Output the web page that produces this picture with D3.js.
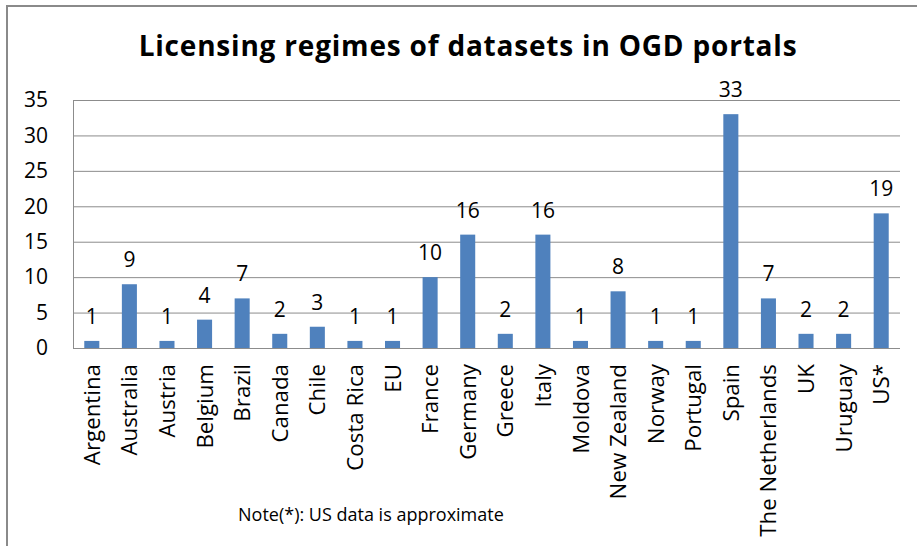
<!DOCTYPE html>
<html>
<head>
<meta charset="utf-8">
<script src="https://cdn.jsdelivr.net/npm/d3@7"></script>
<style>
  body { margin: 0; background: #fff; }
  svg { display: block; font-family: 'Open Sans', sans-serif; }
  .grid line { stroke: #8c8c8c; stroke-width: 1; }
  .bar { fill: #4f81bd; }
  .label { fill: #000; font-size: 21px; }
  .category .label { font-size: 22.3px; }
</style>
</head>
<body>
<svg id="chart"></svg>
<script>
const WIDTH  = 917;
const HEIGHT = 546;

const TITLE = 'Licensing regimes of datasets in OGD portals';
const NOTE  = 'Note(*): US data is approximate';

const countries = ['Argentina', 'Australia', 'Austria', 'Belgium', 'Brazil', 'Canada',
  'Chile', 'Costa Rica', 'EU', 'France', 'Germany', 'Greece', 'Italy', 'Moldova',
  'New Zealand', 'Norway', 'Portugal', 'Spain', 'The Netherlands', 'UK', 'Uruguay', 'US*'];
const datasets  = [1, 9, 1, 4, 7, 2, 3, 1, 1, 10, 16, 2, 16, 1, 8, 1, 1, 33, 7, 2, 2, 19];
const yTicks    = [0, 5, 10, 15, 20, 25, 30, 35];

const plot = { left: 73, right: 900, top: 100, bottom: 348 };

const svg = d3.select('#chart')
  .attr('width', WIDTH)
  .attr('height', HEIGHT);

// outer chart frame (cropped on the right and bottom)
svg.append('rect')
  .attr('x', 7).attr('y', 6)
  .attr('width', WIDTH + 20).attr('height', HEIGHT + 20)
  .attr('fill', '#fff')
  .attr('stroke', '#8a8a8a')
  .attr('stroke-width', 2);

const x = d3.scaleBand()
  .domain(countries)
  .range([plot.left, plot.right])
  .paddingInner(0.6)
  .paddingOuter(0.3);

const y = d3.scaleLinear()
  .domain([0, 35])
  .range([plot.bottom, plot.top]);

// axis groups come with their own font attrs, drop them so the css applies
const plainText = g => {
  g.attr('font-family', null).attr('font-size', null);
  g.select('.domain').remove();
  g.selectAll('text').attr('class', 'label');
};

// gridlines + value axis
const grid = svg.append('g').attr('class', 'grid');
grid.selectAll('line')
  .data(yTicks)
  .enter().append('line')
    .attr('x1', plot.left).attr('x2', plot.right)
    .attr('y1', d => y(d) + 0.5).attr('y2', d => y(d) + 0.5);
grid.append('line')
  .attr('x1', plot.left + 0.5).attr('x2', plot.left + 0.5)
  .attr('y1', plot.top).attr('y2', plot.bottom);

const yAxis = d3.axisLeft(y).tickValues(yTicks).tickSize(0).tickPadding(25);
svg.append('g')
  .attr('transform', `translate(${plot.left},0)`)
  .call(yAxis)
  .call(plainText);

// bars
svg.append('g').selectAll('.bar')
  .data(countries)
  .enter().append('rect')
    .attr('class', 'bar')
    .attr('x', d => x(d))
    .attr('width', x.bandwidth())
    .attr('y', (d, i) => y(datasets[i]))
    .attr('height', (d, i) => plot.bottom - y(datasets[i]));

// data labels
svg.append('g').selectAll('text')
  .data(countries)
  .enter().append('text')
    .attr('class', 'label')
    .attr('text-anchor', 'middle')
    .attr('x', d => x(d) + x.bandwidth() / 2)
    .attr('y', (d, i) => y(datasets[i]) - 17)
    .text((d, i) => datasets[i]);

// category axis
const xAxis = d3.axisBottom(x).tickSize(0).tickPadding(0);
svg.append('g')
  .attr('class', 'category')
  .attr('transform', `translate(0,${plot.bottom})`)
  .call(xAxis)
  .call(plainText)
  .call(g => g.selectAll('text')
    .attr('text-anchor', 'end')
    .attr('transform', 'rotate(-90)')
    .attr('x', -16)
    .attr('y', 0)
    .attr('dy', '0.36em'));

svg.append('line')
  .attr('x1', plot.left).attr('x2', plot.right)
  .attr('y1', plot.bottom + 0.5).attr('y2', plot.bottom + 0.5)
  .attr('stroke', '#8c8c8c');

// title and note
svg.append('text')
  .attr('x', 468).attr('y', 56)
  .attr('text-anchor', 'middle')
  .attr('font-size', 28)
  .attr('font-weight', 'bold')
  .attr('letter-spacing', 0.8)
  .text(TITLE);

svg.append('text')
  .attr('x', 238).attr('y', 521)
  .attr('font-size', 18)
  .text(NOTE);
</script>
</body>
</html>
